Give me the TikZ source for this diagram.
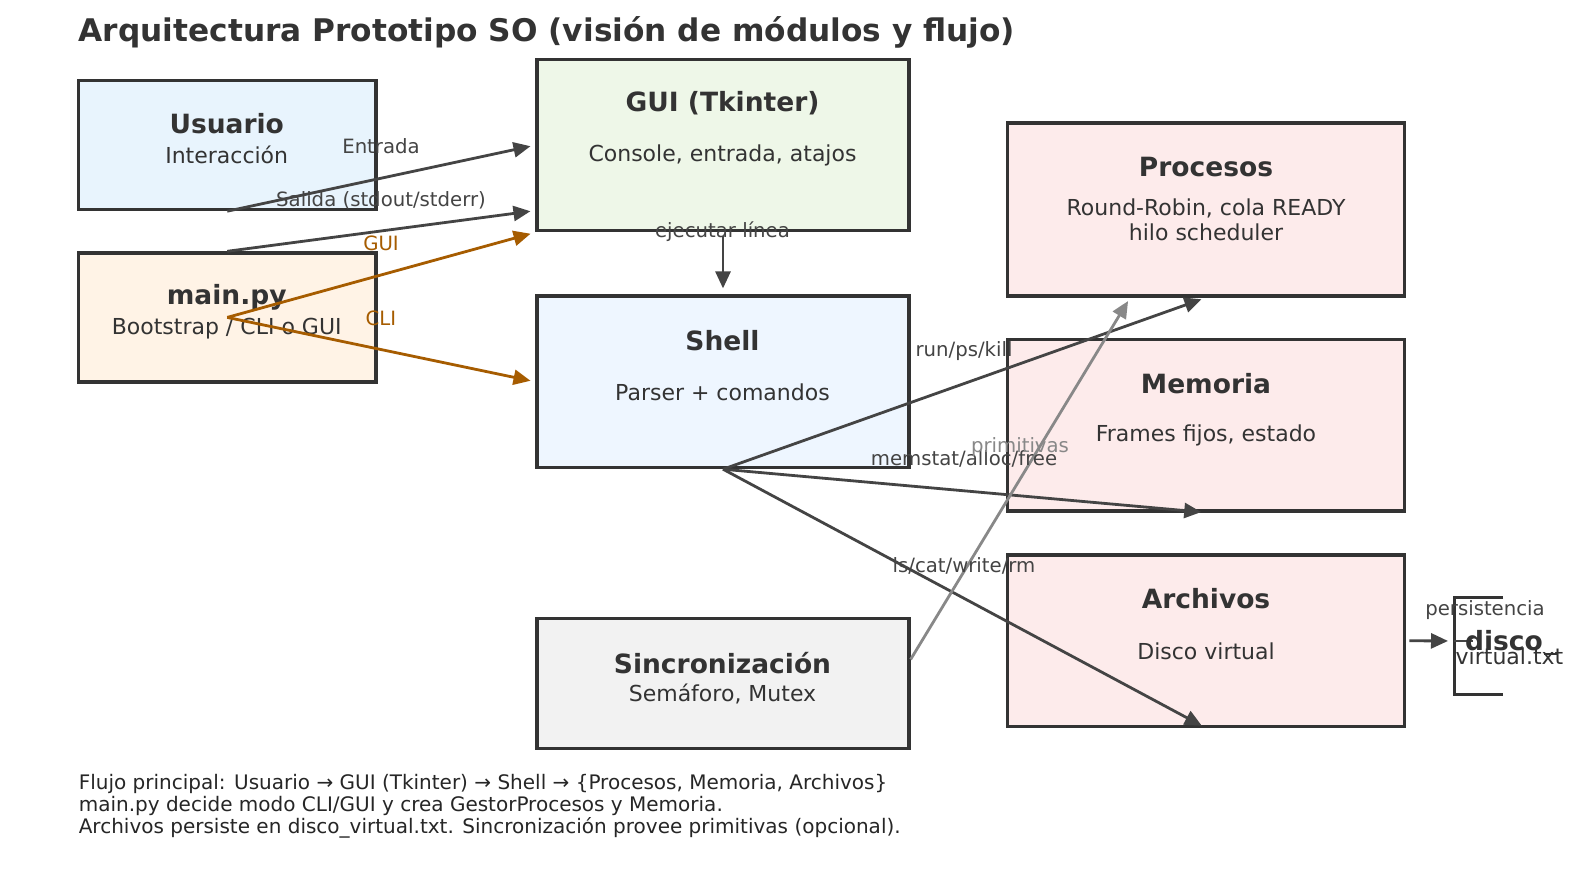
\documentclass[tikz,border=0pt]{standalone}
\usepackage{fontspec}
\setmainfont{DejaVu Sans}
\usetikzlibrary{arrows.meta,calc}
\definecolor{ink}{HTML}{333333}
\definecolor{edgec}{HTML}{444444}
\definecolor{orng}{HTML}{A65C00}
\definecolor{gryc}{HTML}{888888}
\definecolor{fUsr}{HTML}{E8F4FD}
\definecolor{fMain}{HTML}{FFF3E6}
\definecolor{fGui}{HTML}{EEF7E8}
\definecolor{fShell}{HTML}{EEF6FF}
\definecolor{fMod}{HTML}{FDEBEB}
\definecolor{fSinc}{HTML}{F2F2F2}
\begin{document}
\begin{tikzpicture}[x=1pt,y=-1pt,
 box/.style={draw=ink, line width=3.2pt, inner sep=0pt},
 smallbox/.style={box, minimum width=297.3pt, minimum height=129pt},
 midbox/.style={box, minimum width=372pt},
 modbox/.style={box, minimum width=397pt, minimum height=171.5pt, fill=fMod},
 ttl/.style={font=\bfseries\fontsize{26.5}{30}\selectfont, text=ink, inner sep=0pt},
 sub/.style={font=\fontsize{22}{24.2}\selectfont, text=ink, inner sep=0pt, align=center},
 lbl/.style={font=\fontsize{19.7}{22}\selectfont, text=edgec, inner sep=0pt},
 conn/.style={draw=edgec, line width=2.8pt, -{Triangle[length=17pt,width=15pt]}, shorten >=5pt},
]
\useasboundingbox[fill=white] (0,0) rectangle (1580,894);

% title
\node[anchor=west, inner sep=0pt, text=ink, font=\bfseries\fontsize{31.2}{36}\selectfont] (title) at (78.6,32.5) {Arquitectura Prototipo SO (visión de módulos y flujo)};

% boxes
\node[smallbox, fill=fUsr] (usr) at (227.25,145.1) {};
\node[smallbox, fill=fMain] (mainpy) at (227.25,317.4) {};
\node[midbox, minimum height=171.3pt, fill=fGui] (gui) at (723,145.15) {};
\node[midbox, minimum height=171.6pt, fill=fShell] (shell) at (723,381.8) {};
\node[midbox, minimum height=130pt, fill=fSinc] (sinc) at (723,683.7) {};
\node[modbox, minimum height=173pt] (proc) at (1206.2,209.5) {};
\node[modbox, minimum height=171.3pt] (mem) at (1206.2,425.25) {};
\node[modbox] (arch) at (1206.2,640.75) {};

% box texts
\node[ttl] (usrT) at (226.7,124) {Usuario};
\node[sub] (usrS) at (226.7,155) {Interacción};
\node[ttl] (mainT) at (226.7,297) {main.py};
\node[sub] (mainS) at (226.7,328.5) {Bootstrap / CLI o GUI};
\node[ttl] (guiT) at (722.5,102.8) {GUI (Tkinter)};
\node[sub] (guiS) at (722.5,155) {Console, entrada, atajos};
\node[ttl] (shellT) at (722.5,340.6) {Shell};
\node[sub] (shellS) at (722.5,392) {Parser + comandos};
\node[ttl] (sincT) at (722.5,663) {Sincronización};
\node[sub] (sincS) at (722.5,694) {Semáforo, Mutex};
\node[ttl] (procT) at (1206,167) {Procesos};
\node[sub] (procS) at (1206,219.7) {Round-Robin, cola READY\\hilo scheduler};
\node[ttl] (memT) at (1206,384) {Memoria};
\node[sub] (memS) at (1206,435) {Frames fijos, estado};
\node[ttl] (archT) at (1206,598.5) {Archivos};
\node[sub] (archS) at (1206,651) {Disco virtual};

% disco
\draw[ink, line width=3pt] (1503,597.5) -- (1454,597.5) -- (1454,694.5) -- (1503,694.5);
\coordinate (dsk) at (1454,641);

% connectors
\draw[conn] (usr.south) -- (gui.west);
\draw[conn] (mainpy.north) -- ($(gui.south west)!0.125!(gui.north west)$);
\draw[conn, draw=orng] (mainpy.center) -- (gui.south west);
\draw[conn, draw=orng] (mainpy.center) -- (shell.west);
\draw[conn, shorten <=4pt, shorten >=6pt] (gui.south) -- (shell.north);
\draw[conn] (shell.south) -- (proc.south);
\draw[conn] (shell.south) -- (mem.south);
\draw[conn] (shell.south) -- (arch.south);
\draw[conn, draw=gryc, shorten >=4pt] ($(sinc.north east)!0.318!(sinc.south east)$) -- ($(proc.south west)!0.31!(proc.south east)$);
\draw[conn, shorten <=3pt, shorten >=6pt] (arch.east) -- (dsk);
\draw[edgec, line width=2.8pt] (dsk) -- ++(19,0);
\draw[ink, line width=2pt] (1544,654) -- (1557,654);

\node[ttl] (dskT) at (1504,641) {disco};
\node[sub] (dskS) at (1509.5,656) {virtual.txt};

% edge labels
\node[lbl] (lEnt) at (381,146) {Entrada};
\node[lbl] (lSal) at (381,200.5) {Salida (stdout/stderr)};
\node[lbl, text=orng] (lGui) at (381,243) {GUI};
\node[lbl, text=orng] (lCli) at (381,318.5) {CLI};
\node[lbl] (lEje) at (722.5,231.8) {ejecutar línea};
\node[lbl] (lRun) at (964,350.7) {run/ps/kill};
\node[lbl] (lMem) at (964,458.5) {memstat/alloc/free};
\node[lbl] (lLs) at (964,566) {ls/cat/write/rm};
\node[lbl, text=gryc] (lPri) at (1020,447.4) {primitivas};
\node[lbl] (lPer) at (1485,609.6) {persistencia};

% footer
\node[anchor=west, inner sep=0pt, align=left, text=black!85, font=\fontsize{20}{22.2}\selectfont] (foot) at (78.6,806) {Flujo principal: Usuario → GUI (Tkinter) → Shell → \{Procesos, Memoria, Archivos\}\\main.py decide modo CLI/GUI y crea GestorProcesos y Memoria.\\Archivos persiste en disco\_virtual.txt. Sincronización provee primitivas (opcional).};
\end{tikzpicture}
\end{document}
